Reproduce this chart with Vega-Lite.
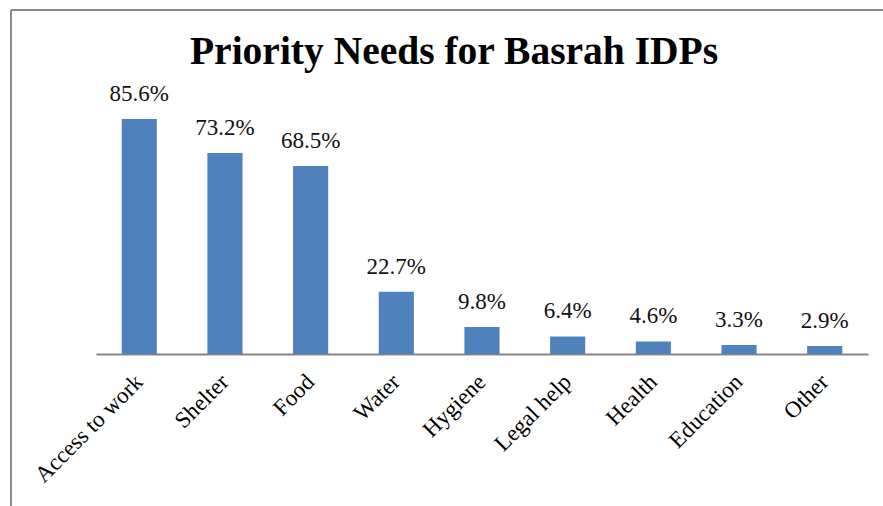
{
  "$schema": "https://vega.github.io/schema/vega-lite/v6.json",
  "width": 872,
  "height": 496,
  "autosize": {"type": "none"},
  "padding": {"left": 11, "top": 10, "right": 0, "bottom": 0},
  "background": "white",
  "config": {
    "view": {"stroke": "#8a8a8a", "strokeWidth": 2, "strokeDash": [872, 1368, 496, 0]},
    "font": "Liberation Serif",
    "text": {"font": "Liberation Serif"},
    "mark": {"font": "Liberation Serif"}
  },
  "title": {
    "text": "Priority Needs for Basrah IDPs",
    "font": "Liberation Serif",
    "fontSize": 39.5,
    "fontWeight": "bold",
    "color": "#000000",
    "anchor": "middle",
    "frame": "group",
    "baseline": "alphabetic",
    "offset": -53,
    "dy": 40,
    "dx": 7
  },
  "data": {
    "values": [
      {"need": "Access to work", "pct": 85.6, "label": "85.6%"},
      {"need": "Shelter", "pct": 73.2, "label": "73.2%"},
      {"need": "Food", "pct": 68.5, "label": "68.5%"},
      {"need": "Water", "pct": 22.7, "label": "22.7%"},
      {"need": "Hygiene", "pct": 9.8, "label": "9.8%"},
      {"need": "Legal help", "pct": 6.4, "label": "6.4%"},
      {"need": "Health", "pct": 4.6, "label": "4.6%"},
      {"need": "Education", "pct": 3.3, "label": "3.3%"},
      {"need": "Other", "pct": 2.9, "label": "2.9%"}
    ]
  },
  "encoding": {
    "x": {
      "field": "need",
      "type": "nominal",
      "sort": null,
      "scale": {"range": [85, 857], "paddingInner": 0.59, "paddingOuter": 0.3},
      "axis": {
        "title": null,
        "offset": -152,
        "domainColor": "#868686",
        "domainWidth": 2,
        "ticks": false,
        "labelAngle": -45,
        "labelAlign": "right",
        "labelBaseline": "middle",
        "labelPadding": 24,
        "labelFont": "Liberation Serif",
        "labelFontSize": 23,
        "labelColor": "#000000",
        "labelOverlap": false
      }
    },
    "y": {
      "field": "pct",
      "type": "quantitative",
      "scale": {"domain": [0, 90], "range": [344, 97], "nice": false, "zero": true},
      "axis": null
    }
  },
  "layer": [
    {"mark": {"type": "bar", "color": "#4F81BD"}},
    {
      "mark": {"type": "text", "baseline": "alphabetic", "dy": -18, "font": "Liberation Serif", "fontSize": 23, "color": "#111111"},
      "encoding": {"text": {"field": "label"}}
    }
  ]
}
